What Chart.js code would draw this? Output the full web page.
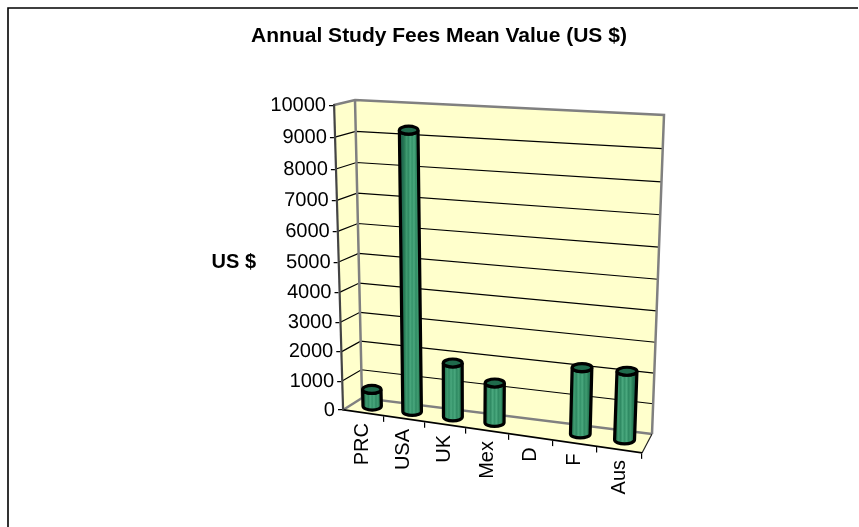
<!DOCTYPE html>
<html>
<head>
<meta charset="utf-8">
<title>Annual Study Fees Mean Value</title>
<style>
  body { margin: 0; background: #fff; }
  canvas { display: block; }
</style>
<script src="https://cdn.jsdelivr.net/npm/chart.js@4/dist/chart.umd.js"></script>
</head>
<body>
<canvas id="grafico" width="859" height="527"></canvas>
<script>
const categorias = ['PRC', 'USA', 'UK', 'Mex', 'D', 'F', 'Aus'];
const valores = [600, 9250, 1850, 1350, null, 2200, 2250];
const ticksY = [0, 1000, 2000, 3000, 4000, 5000, 6000, 7000, 8000, 9000, 10000];
const titulo = 'Annual Study Fees Mean Value (US $)';
const tituloY = 'US $';

// corners of the fake 3D box (screen position of each corner of the plot)
const frente = { bl: [343, 410], br: [642, 453], tl: [334, 105], tr: [656, 124] };
const fondo = { bl: [362, 398], br: [652, 434], tl: [355, 100], tr: [664, 115] };
const corteX = (453 - 410) / (642 - 343);
const corteY = (343 - 334) / (410 - 105);
const FUENTE = '"Liberation Sans", Arial, sans-serif';

function lerp(a, b, t) { return [a[0] + (b[0] - a[0]) * t, a[1] + (b[1] - a[1]) * t]; }

// chart pixel + depth (0 front, 1 back) -> screen
function proyectar(area, px, py, d) {
  const s = (px - area.left) / (area.right - area.left);
  const r = (area.bottom - py) / (area.bottom - area.top);
  const f = lerp(lerp(frente.bl, frente.br, s), lerp(frente.tl, frente.tr, s), r);
  const b = lerp(lerp(fondo.bl, fondo.br, s), lerp(fondo.tl, fondo.tr, s), r);
  return lerp(f, b, d);
}

// the perspective squeezes the values and the categories a bit
function perspectiva(t, c) { return t * c / (1 + (c - 1) * t); }

class EscalaValor extends Chart.LinearScale {
  static id = 'escalaValor';
  static defaults = Chart.LinearScale.defaults;
  getPixelForDecimal(d) { return super.getPixelForDecimal(perspectiva(d, 0.942)); }
  inclinar() {
    this.ctx.transform(1, 0, corteY, 1, -corteY * this.bottom, 0);
  }
  drawGrid(a) { this.ctx.save(); this.inclinar(); super.drawGrid(a); this.ctx.restore(); }
  drawBorder() { this.ctx.save(); this.inclinar(); super.drawBorder(); this.ctx.restore(); }
  drawLabels(a) { this.ctx.save(); this.inclinar(); super.drawLabels(a); this.ctx.restore(); }
  drawTitle() {
    const ctx = this.ctx;
    ctx.save();
    ctx.font = 'bold 20px ' + FUENTE;
    ctx.fillStyle = '#000';
    ctx.textAlign = 'right';
    ctx.textBaseline = 'middle';
    ctx.fillText(this.options.title.text, this.left + 20, this.getPixelForValue(5000));
    ctx.restore();
  }
}

class EscalaCategoria extends Chart.CategoryScale {
  static id = 'escalaCategoria';
  static defaults = Chart.CategoryScale.defaults;
  getPixelForDecimal(d) { return super.getPixelForDecimal(perspectiva(d, 0.931)); }
  inclinar() {
    this.ctx.transform(1, corteX, 0, 1, 0, -corteX * this.left);
  }
  drawGrid(a) { this.ctx.save(); this.inclinar(); super.drawGrid(a); this.ctx.restore(); }
  drawBorder() { this.ctx.save(); this.inclinar(); super.drawBorder(); this.ctx.restore(); }
  _computeLabelItems(a) {
    const items = super._computeLabelItems(a);
    items.forEach(function (it) {
      const t = it.options.translation;
      it.options.translation = [t[0], t[1] + corteX * (t[0] - a.left)];
    });
    return items;
  }
}

class CilindroController extends Chart.BarController {
  static id = 'cilindro';
  static defaults = Chart.BarController.defaults;
  static overrides = Chart.BarController.overrides;
  draw() {
    const ctx = this.chart.ctx;
    const area = this.chart.chartArea;
    this._cachedMeta.data.forEach(function (bar, i) {
      if (valores[i] === null) return;
      const arriba = proyectar(area, bar.x, bar.y, 0.5);
      const abajo = proyectar(area, bar.x, bar.base, 0.5);
      const rx = bar.width / 2 * (1 + 0.1 * (bar.x - area.left) / (area.right - area.left));
      const ry = 4;
      const g = ctx.createLinearGradient(abajo[0] - rx, 0, abajo[0] + rx, 0);
      const bandas = ['#226b50', '#2a8059', '#3f9a70', '#2f8a63', '#4aa87e', '#35936a', '#4aa87e', '#2f8a63', '#3f9a70', '#2a8059', '#226b50'];
      bandas.forEach(function (c, k) { g.addColorStop(k / (bandas.length - 1), c); });

      ctx.save();
      ctx.lineWidth = 3.2;
      ctx.strokeStyle = '#000';
      ctx.beginPath();
      ctx.moveTo(arriba[0] - rx, arriba[1]);
      ctx.lineTo(abajo[0] - rx, abajo[1]);
      ctx.ellipse(abajo[0], abajo[1], rx, ry, 0, Math.PI, 0, true);
      ctx.lineTo(arriba[0] + rx, arriba[1]);
      ctx.ellipse(arriba[0], arriba[1], rx, ry, 0, 0, Math.PI, false);
      ctx.closePath();
      ctx.fillStyle = g;
      ctx.fill();
      ctx.stroke();
      ctx.beginPath();
      ctx.ellipse(arriba[0], arriba[1], rx, ry, 0, 0, Math.PI * 2);
      ctx.fillStyle = '#1f6b4c';
      ctx.fill();
      ctx.stroke();
      ctx.restore();
    });
  }
}

Chart.register(EscalaValor, EscalaCategoria, CilindroController);

const paredes = {
  id: 'paredes',
  beforeDraw(chart) {
    const ctx = chart.ctx;
    const a = chart.chartArea;
    const y = chart.scales.y;
    function punto(px, py, d) { return proyectar(a, px, py, d); }
    function poligono(pts, fill) {
      ctx.beginPath();
      pts.forEach(function (p, i) { i ? ctx.lineTo(p[0], p[1]) : ctx.moveTo(p[0], p[1]); });
      ctx.closePath();
      ctx.fillStyle = fill;
      ctx.fill();
    }
    function linea(pts, color, ancho) {
      ctx.beginPath();
      pts.forEach(function (p, i) { i ? ctx.lineTo(p[0], p[1]) : ctx.moveTo(p[0], p[1]); });
      ctx.strokeStyle = color;
      ctx.lineWidth = ancho;
      ctx.stroke();
    }
    ctx.save();
    // marco exterior, only top and left are visible
    linea([[8, 527], [8, 8], [858, 8]], '#000', 1.6);

    const crema = '#ffffcc';
    poligono([frente.tl, fondo.tl, fondo.bl, frente.bl], crema);
    poligono([fondo.tl, fondo.tr, fondo.br, fondo.bl], crema);
    poligono([frente.bl, fondo.bl, fondo.br, frente.br], crema);

    ticksY.forEach(function (v) {
      if (v === 0 || v === 10000) return;
      const py = y.getPixelForValue(v);
      linea([punto(a.left, py, 0), punto(a.left, py, 1), punto(a.right, py, 1)], '#000', 1.2);
    });

    linea([frente.tl, fondo.tl, fondo.tr, fondo.br], '#808080', 2.5);
    linea([fondo.tl, fondo.bl, fondo.br], '#808080', 2.5);
    linea([frente.bl, fondo.bl], '#808080', 2.5);
    linea([frente.br, fondo.br], '#222', 1.2);
    ctx.restore();
  }
};

new Chart(document.getElementById('grafico'), {
  type: 'cilindro',
  data: {
    labels: categorias,
    datasets: [{
      data: valores,
      clip: false,
      barPercentage: 0.45,
      categoryPercentage: 1
    }]
  },
  options: {
    responsive: false,
    animation: false,
    layout: { padding: { left: 236, right: 217, top: 0, bottom: 0 } },
    plugins: {
      legend: { display: false },
      tooltip: { enabled: false },
      title: {
        display: true,
        text: titulo,
        color: '#000',
        font: { family: FUENTE, size: 21, weight: 'bold' },
        padding: { top: 24, bottom: 56 }
      }
    },
    scales: {
      x: {
        type: 'escalaCategoria',
        afterFit: function (s) { s.height = 117; },
        border: { color: '#000', width: 1.6 },
        grid: { drawOnChartArea: false, color: '#000', tickLength: 6, lineWidth: 1.2 },
        ticks: {
          color: '#000',
          font: { family: FUENTE, size: 20 },
          autoSkip: false,
          minRotation: 90,
          maxRotation: 90,
          padding: 6
        }
      },
      y: {
        type: 'escalaValor',
        min: 0,
        max: 10000,
        afterFit: function (s) { s.width = 107; },
        afterBuildTicks: function (s) { s.ticks = ticksY.map(function (v) { return { value: v }; }); },
        title: { display: true, text: tituloY },
        border: { color: '#444', width: 2.2 },
        grid: { drawOnChartArea: false, color: '#000', tickLength: 5, lineWidth: 1.2 },
        ticks: {
          color: '#000',
          font: { family: FUENTE, size: 20 },
          padding: 3,
          callback: function (v) { return String(v); }
        }
      }
    }
  },
  plugins: [paredes]
});
</script>
</body>
</html>
